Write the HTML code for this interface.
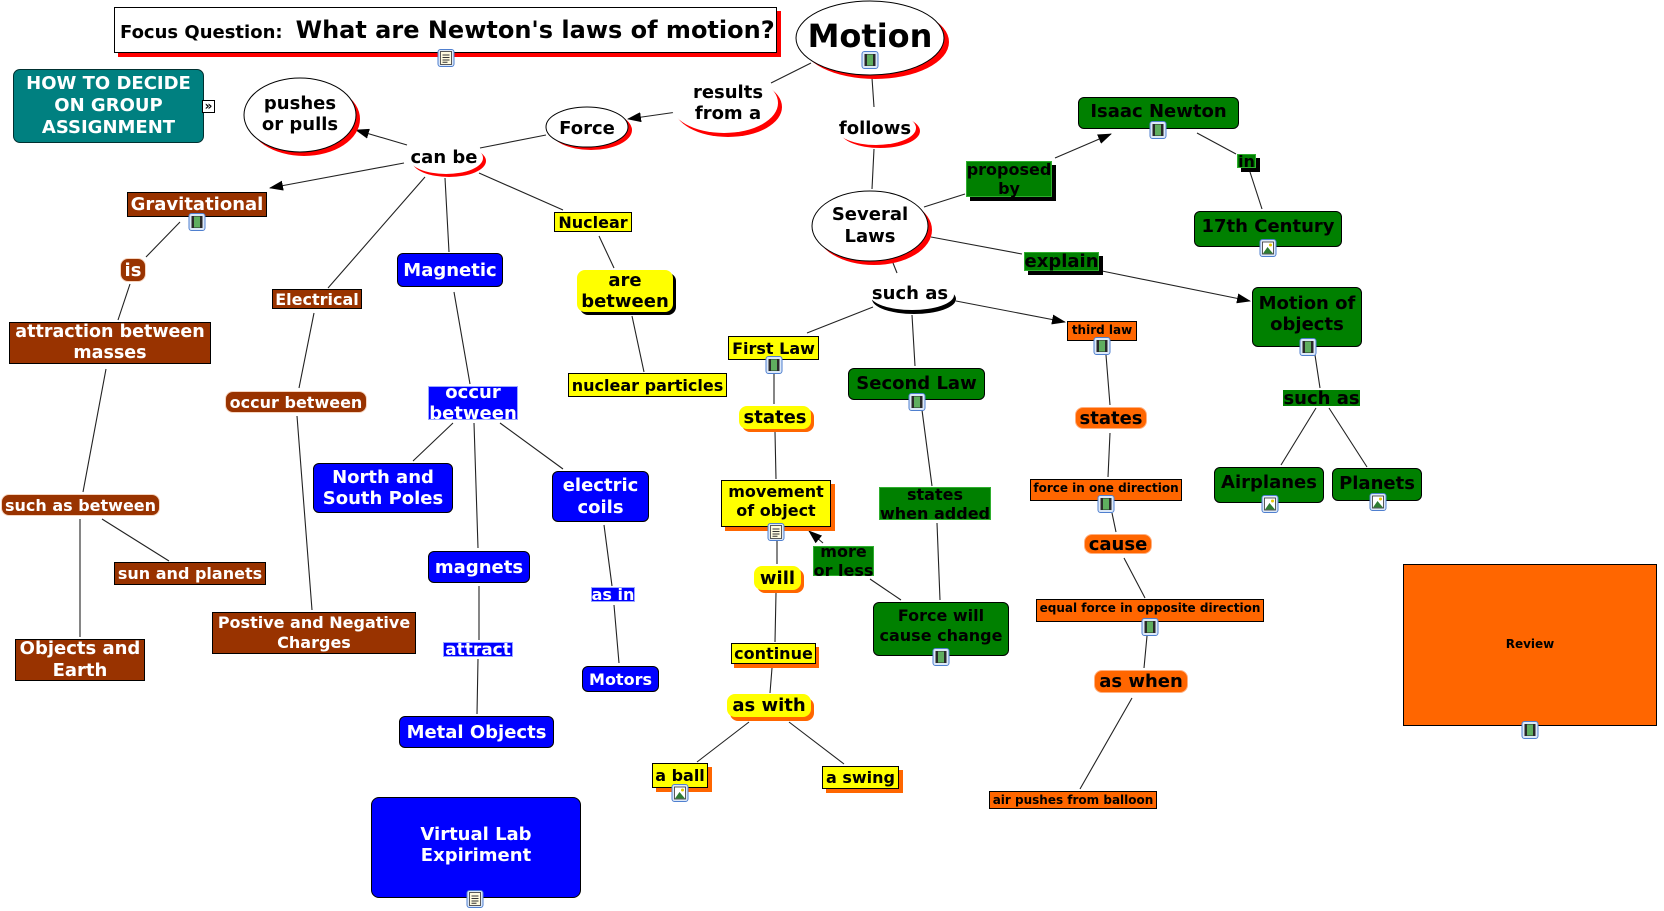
<!DOCTYPE html>
<html><head><meta charset="utf-8"><style>
html,body{margin:0;padding:0;background:#fff;}
#c{position:relative;width:1664px;height:911px;overflow:hidden;background:#fff;font-family:"DejaVu Sans","Liberation Sans",sans-serif;}
svg{position:absolute;left:0;top:0;}
.n{position:absolute;box-sizing:border-box;display:flex;align-items:center;justify-content:center;text-align:center;font-weight:bold;white-space:nowrap;}
.br{background:#993300;color:#fff;border:1px solid #000;}
.brl{background:#993300;color:#fff;border:1px solid #f5d5c0;border-radius:8px;}
.bl{background:#0000ff;color:#fff;border:1px solid #000;border-radius:6px;}
.bll{background:#0000ff;color:#fff;border:1px solid #9aa8ff;}
.gr{background:#008000;color:#000;border:1px solid #000;border-radius:6px;}
.grl{background:#008000;color:#000;border:1px solid #2fae2f;}
.ye{background:#ffff00;color:#000;border:1px solid #000;}
.yel{background:#ffff00;color:#000;border-radius:8px;}
.or{background:#ff6600;color:#000;border:1px solid #000;}
.orl{background:#ff6600;color:#000;border:1px solid #ffb080;border-radius:8px;}
.t{background:transparent;color:#000;}
</style></head><body><div id="c">

<svg width="1664" height="911" viewBox="0 0 1664 911">
<defs>
<marker id="a" markerWidth="14" markerHeight="10" refX="13" refY="5" orient="auto" markerUnits="userSpaceOnUse"><path d="M0,0 L14,5 L0,10 z" fill="#000"/></marker>
</defs>
<g stroke="#222" stroke-width="1.1" fill="none">
<path d="M811 63L771 83 M872 78L874 107 M874 149L872 189 M546 135L480 148 M425 177L328 288 M445 178L449 252 M479 173L563 210 M180 222L146 257 M130 284L118 320 M106 369L83 492 M80 519L80 637 M102 519L169 561 M314 313L299 388 M297 416L312 610 M454 292L470 384 M453 423L413 461 M474 423L478 548 M479 586L479 640 M478 659L477 714 M500 423L563 469 M604 525L612 586 M614 605L619 663 M599 236L614 268 M632 316L644 372 M924 207L965 194 M1197 133L1236 154 M1250 172L1262 209 M931 237L1022 254 M1315 355L1320 388 M1316 408L1281 465 M1329 408L1367 467 M893 263L897 273 M873 307L807 333 M912 315L915 366 M774 373L774 404 M775 432L776 479 M777 540L777 564 M776 593L775 642 M922 410L932 486 M937 523L940 600 M901 600L870 579 M772 668L770 693 M749 722L697 762 M789 722L844 764 M1106 355L1110 405 M1110 433L1108 477 M1112 513L1116 532 M1124 558L1145 598 M1147 636L1144 668 M1132 698L1080 789"/>
<line x1="677" y1="112" x2="628" y2="119" marker-end="url(#a)"/>
<line x1="407" y1="145" x2="356" y2="130" marker-end="url(#a)"/>
<line x1="404" y1="163" x2="270" y2="188" marker-end="url(#a)"/>
<line x1="1055" y1="158" x2="1111" y2="134" marker-end="url(#a)"/>
<line x1="1102" y1="271" x2="1250" y2="301" marker-end="url(#a)"/>
<line x1="956" y1="301" x2="1065" y2="322" marker-end="url(#a)"/>
<line x1="823" y1="543" x2="809" y2="531" marker-end="url(#a)"/>
</g>
<!-- ellipses -->
<ellipse cx="875" cy="42" rx="74" ry="37" fill="#f00"/>
<ellipse cx="870" cy="38" rx="74" ry="37" fill="#fff" stroke="#000"/>
<ellipse cx="304" cy="119" rx="56" ry="37" fill="#f00"/>
<ellipse cx="300" cy="115" rx="56" ry="37" fill="#fff" stroke="#000"/>
<ellipse cx="591" cy="130" rx="41" ry="20" fill="#f00"/>
<ellipse cx="587" cy="127" rx="41" ry="20" fill="#fff" stroke="#000"/>
<ellipse cx="874" cy="230" rx="58" ry="35" fill="#f00"/>
<ellipse cx="870" cy="226" rx="58" ry="35" fill="#fff" stroke="#000"/>
<ellipse cx="728" cy="107" rx="54" ry="30" fill="#f00"/>
<ellipse cx="724" cy="103" rx="54" ry="30" fill="#fff"/>
<ellipse cx="880" cy="131" rx="40" ry="17" fill="#f00"/>
<ellipse cx="876" cy="128" rx="40" ry="17" fill="#fff"/>
<ellipse cx="449" cy="161" rx="37" ry="16" fill="#f00"/>
<ellipse cx="446" cy="158" rx="37" ry="16" fill="#fff"/>
<ellipse cx="914" cy="299" rx="42" ry="15" fill="#000"/>
<ellipse cx="912" cy="295" rx="42" ry="15" fill="#fff"/>
</svg>

<!-- Focus question -->
<div style="position:absolute;left:114px;top:7px;width:663px;height:46px;box-sizing:border-box;border:1px solid #000;background:#fff;box-shadow:4px 4px 0 #f00;padding-left:5px;line-height:44px;font-weight:bold;white-space:nowrap;"><span style="font-size:18px">Focus Question:</span><span style="font-size:24px;margin-left:13px">What are Newton's laws of motion?</span></div>

<div class="n t" style="left:796px;top:16px;width:148px;height:40px;font-size:32px;"><span>Motion</span></div>
<div class="n" style="left:13px;top:69px;width:191px;height:74px;font-size:18px;line-height:22px;background:#008080;color:#fff;border:1px solid #003030;border-radius:7px;"><span>HOW TO DECIDE<br>ON GROUP<br>ASSIGNMENT</span></div>
<div class="n" style="left:202px;top:100px;width:13px;height:13px;font-size:12px;line-height:11px;background:#fff;color:#000;border:1px solid #000;"><span>»</span></div>

<div class="n t" style="left:244px;top:92px;width:112px;height:44px;font-size:18px;line-height:21px;"><span>pushes<br>or pulls</span></div>
<div class="n t" style="left:546px;top:116px;width:82px;height:24px;font-size:18px;"><span>Force</span></div>
<div class="n t" style="left:676px;top:82px;width:104px;height:42px;font-size:18px;line-height:21px;"><span>results<br>from a</span></div>
<div class="n t" style="left:835px;top:116px;width:80px;height:24px;font-size:18px;"><span>follows</span></div>
<div class="n t" style="left:404px;top:145px;width:80px;height:24px;font-size:18px;"><span>can be</span></div>
<div class="n t" style="left:812px;top:204px;width:116px;height:44px;font-size:18px;line-height:22px;"><span>Several<br>Laws</span></div>
<div class="n t" style="left:870px;top:281px;width:80px;height:24px;font-size:18px;"><span>such as</span></div>

<!-- brown -->
<div class="n br" style="left:127px;top:192px;width:140px;height:25px;font-size:18px;"><span>Gravitational</span></div>
<div class="n brl" style="left:120px;top:258px;width:26px;height:24px;font-size:18px;"><span>is</span></div>
<div class="n br" style="left:9px;top:322px;width:202px;height:42px;font-size:17.5px;line-height:21px;"><span>attraction between<br>masses</span></div>
<div class="n br" style="left:272px;top:289px;width:90px;height:20px;font-size:16px;"><span>Electrical</span></div>
<div class="n brl" style="left:225px;top:391px;width:142px;height:22px;font-size:16px;"><span>occur between</span></div>
<div class="n brl" style="left:1px;top:494px;width:159px;height:22px;font-size:16px;"><span>such as between</span></div>
<div class="n br" style="left:114px;top:562px;width:152px;height:23px;font-size:16px;"><span>sun and planets</span></div>
<div class="n br" style="left:15px;top:639px;width:130px;height:42px;font-size:18px;line-height:22px;"><span>Objects and<br>Earth</span></div>
<div class="n br" style="left:212px;top:612px;width:204px;height:42px;font-size:16px;line-height:20px;"><span>Postive and Negative<br>Charges</span></div>

<!-- blue -->
<div class="n bl" style="left:397px;top:253px;width:106px;height:34px;font-size:18px;"><span>Magnetic</span></div>
<div class="n bll" style="left:428px;top:386px;width:90px;height:34px;font-size:18px;line-height:21px;"><span>occur<br>between</span></div>
<div class="n bl" style="left:313px;top:463px;width:140px;height:50px;font-size:18px;line-height:21px;"><span>North and<br>South Poles</span></div>
<div class="n bl" style="left:552px;top:471px;width:97px;height:51px;font-size:18px;line-height:22px;"><span>electric<br>coils</span></div>
<div class="n bl" style="left:428px;top:551px;width:102px;height:32px;font-size:18px;"><span>magnets</span></div>
<div class="n bll" style="left:443px;top:642px;width:70px;height:15px;font-size:17px;"><span>attract</span></div>
<div class="n bl" style="left:399px;top:716px;width:155px;height:32px;font-size:18px;"><span>Metal Objects</span></div>
<div class="n bl" style="left:371px;top:797px;width:210px;height:101px;font-size:18px;line-height:21px;border-radius:8px;padding-bottom:6px;"><span>Virtual Lab<br>Expiriment</span></div>
<div class="n bll" style="left:591px;top:587px;width:44px;height:15px;font-size:16px;"><span>as in</span></div>
<div class="n bl" style="left:582px;top:666px;width:77px;height:26px;font-size:16px;"><span>Motors</span></div>

<!-- yellow -->
<div class="n ye" style="left:554px;top:212px;width:78px;height:20px;font-size:16px;"><span>Nuclear</span></div>
<div class="n yel" style="left:577px;top:270px;width:96px;height:42px;font-size:18px;line-height:21px;box-shadow:3px 3px 0 #000;"><span>are<br>between</span></div>
<div class="n ye" style="left:568px;top:373px;width:159px;height:24px;font-size:16px;"><span>nuclear particles</span></div>
<div class="n ye" style="left:728px;top:336px;width:91px;height:24px;font-size:16px;"><span>First Law</span></div>
<div class="n yel" style="left:739px;top:406px;width:72px;height:23px;font-size:18px;box-shadow:3px 3px 0 #ff6600;"><span>states</span></div>
<div class="n ye" style="left:721px;top:480px;width:110px;height:47px;font-size:16px;line-height:19.5px;box-shadow:4px 4px 0 #ff6600;padding-bottom:5px;"><span>movement<br>of object</span></div>
<div class="n yel" style="left:754px;top:566px;width:47px;height:24px;font-size:18px;box-shadow:3px 3px 0 #ff6600;"><span>will</span></div>
<div class="n ye" style="left:731px;top:643px;width:85px;height:21px;font-size:16px;box-shadow:3px 4px 0 #ff6600;"><span>continue</span></div>
<div class="n yel" style="left:727px;top:694px;width:84px;height:23px;font-size:18px;box-shadow:3px 4px 0 #ff6600;"><span>as with</span></div>
<div class="n ye" style="left:652px;top:763px;width:56px;height:25px;font-size:16px;box-shadow:4px 4px 0 #ff6600;"><span>a ball</span></div>
<div class="n ye" style="left:822px;top:766px;width:77px;height:23px;font-size:16px;box-shadow:4px 4px 0 #ff6600;"><span>a swing</span></div>

<!-- green -->
<div class="n grl" style="left:966px;top:161px;width:86px;height:36px;font-size:16px;line-height:19px;box-shadow:4px 4px 0 #000;"><span>proposed<br>by</span></div>
<div class="n gr" style="left:1078px;top:97px;width:161px;height:32px;font-size:18px;padding-bottom:4px;"><span>Isaac Newton</span></div>
<div class="n grl" style="left:1237px;top:154px;width:19px;height:14px;font-size:16px;box-shadow:4px 4px 0 #000;"><span>in</span></div>
<div class="n gr" style="left:1194px;top:211px;width:148px;height:36px;font-size:18px;padding-bottom:6px;"><span>17th Century</span></div>
<div class="n grl" style="left:1024px;top:252px;width:75px;height:19px;font-size:18px;box-shadow:4px 4px 0 #000;"><span>explain</span></div>
<div class="n gr" style="left:1252px;top:287px;width:110px;height:60px;font-size:18px;line-height:21px;padding-bottom:7px;"><span>Motion of<br>objects</span></div>
<div class="n grl" style="left:1283px;top:390px;width:77px;height:16px;font-size:18px;border-color:#008000;"><span>such as</span></div>
<div class="n gr" style="left:1214px;top:467px;width:110px;height:36px;font-size:18px;padding-bottom:6px;"><span>Airplanes</span></div>
<div class="n gr" style="left:1332px;top:468px;width:90px;height:33px;font-size:18px;padding-bottom:3px;"><span>Planets</span></div>
<div class="n gr" style="left:848px;top:368px;width:137px;height:32px;font-size:18px;padding-bottom:2px;"><span>Second Law</span></div>
<div class="n grl" style="left:813px;top:546px;width:61px;height:30px;font-size:16px;line-height:19px;"><span>more<br>or less</span></div>
<div class="n grl" style="left:879px;top:487px;width:112px;height:33px;font-size:16px;line-height:19px;"><span>states<br>when added</span></div>
<div class="n gr" style="left:873px;top:602px;width:136px;height:54px;font-size:16px;line-height:20px;padding-bottom:6px;"><span>Force will<br>cause change</span></div>

<!-- orange -->
<div class="n or" style="left:1067px;top:321px;width:70px;height:20px;font-size:12px;padding-bottom:3px;"><span>third law</span></div>
<div class="n orl" style="left:1075px;top:407px;width:72px;height:22px;font-size:18px;"><span>states</span></div>
<div class="n or" style="left:1030px;top:479px;width:152px;height:22px;font-size:12px;padding-bottom:4px;"><span>force in one direction</span></div>
<div class="n orl" style="left:1084px;top:534px;width:68px;height:20px;font-size:18px;"><span>cause</span></div>
<div class="n or" style="left:1036px;top:599px;width:228px;height:23px;font-size:12px;padding-bottom:5px;"><span>equal force in opposite direction</span></div>
<div class="n orl" style="left:1094px;top:670px;width:94px;height:23px;font-size:18px;"><span>as when</span></div>
<div class="n or" style="left:989px;top:791px;width:168px;height:18px;font-size:12px;"><span>air pushes from balloon</span></div>
<div class="n or" style="left:1403px;top:564px;width:254px;height:162px;font-size:12px;padding-bottom:3px;"><span>Review</span></div>

<!-- icons -->
<svg width="1664" height="911" viewBox="0 0 1664 911">
<defs>
<g id="film"><rect x="0.5" y="0.5" width="16" height="17" rx="2.5" fill="#dce8f8" stroke="#4f7fcf"/><rect x="3" y="3" width="11" height="12" fill="#2a2a2a"/><rect x="5.5" y="3.5" width="6" height="11" fill="#5fae5f"/></g>
<g id="pic"><rect x="0.5" y="0.5" width="16" height="17" rx="2.5" fill="#dce8f8" stroke="#4f7fcf"/><rect x="3" y="3" width="11" height="12" fill="#fff" stroke="#333" stroke-width="0.8"/><path d="M3.5 14.5 L8 8 L13.5 14.5z" fill="#2e7d32"/><circle cx="11" cy="6" r="1.5" fill="#e6c800"/></g>
<g id="doc"><rect x="0.5" y="0.5" width="16" height="17" rx="2.5" fill="#dce8f8" stroke="#4f7fcf"/><rect x="3" y="2.5" width="11" height="13" fill="#fffbe0" stroke="#333" stroke-width="0.8"/><path d="M5 6h7M5 8.5h7M5 11h7M5 13.3h5" stroke="#333" stroke-width="1"/></g>
</defs>
<use href="#doc" x="437.5" y="49"/>
<use href="#film" x="861.5" y="51"/>
<use href="#film" x="188.5" y="213"/>
<use href="#film" x="1149.5" y="121"/>
<use href="#pic" x="1259.5" y="239"/>
<use href="#film" x="1299.5" y="338"/>
<use href="#pic" x="1261.5" y="495"/>
<use href="#pic" x="1369.5" y="493"/>
<use href="#film" x="765.5" y="356"/>
<use href="#film" x="908.5" y="393"/>
<use href="#doc" x="767.5" y="523"/>
<use href="#film" x="1093.5" y="337"/>
<use href="#film" x="1097.5" y="495"/>
<use href="#film" x="1141.5" y="618"/>
<use href="#film" x="932.5" y="648"/>
<use href="#pic" x="671.5" y="784"/>
<use href="#film" x="1521.5" y="721"/>
<use href="#doc" x="466.5" y="890"/>
</svg>

</div></body></html>
